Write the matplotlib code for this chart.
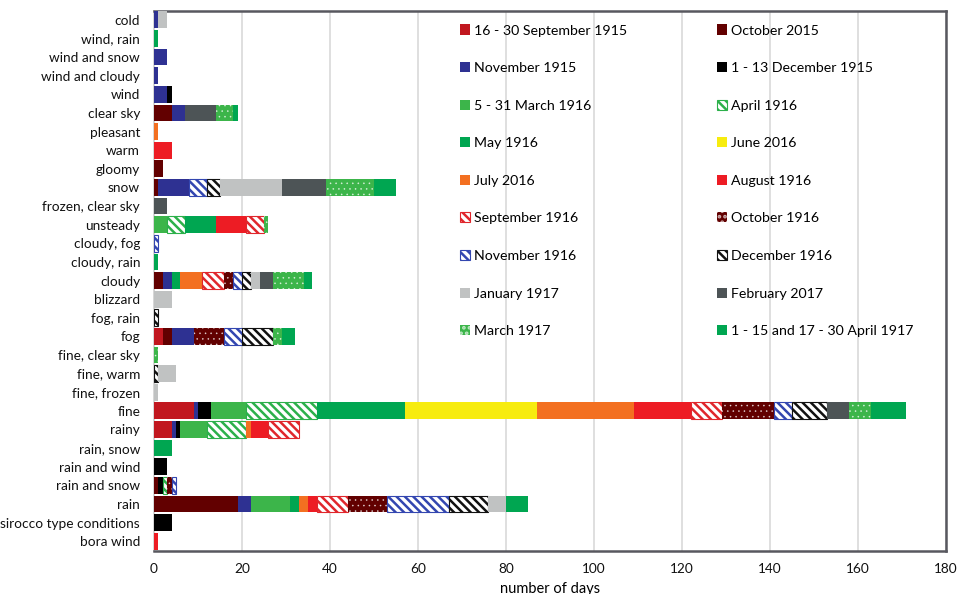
import numpy as np
from matplotlib import pyplot as plt
from matplotlib.patches import Patch

plt.rcParams['font.family'] = ['Lato', 'DejaVu Sans']
plt.rcParams['hatch.linewidth'] = 1.8

categories = [
    'cold', 'wind, rain', 'wind and snow', 'wind and cloudy', 'wind',
    'clear sky', 'pleasant', 'warm', 'gloomy', 'snow', 'frozen, clear sky',
    'unsteady', 'cloudy, fog', 'cloudy, rain', 'cloudy', 'blizzard',
    'fog, rain', 'fog', 'fine, clear sky', 'fine, warm', 'fine, frozen',
    'fine', 'rainy', 'rain, snow', 'rain and wind', 'rain and snow', 'rain',
    'sirocco type conditions', 'bora wind',
]

# number of days per category (same order as categories)
sep_1915 = [0, 0, 0, 0, 0, 0, 0, 0, 0, 0, 0, 0, 0, 0, 0, 0, 0, 2, 0, 0, 0, 9, 4, 0, 0, 0, 0, 0, 0]
oct_1915 = [0, 0, 0, 0, 0, 4, 0, 0, 2, 1, 0, 0, 0, 0, 2, 0, 0, 2, 0, 0, 0, 0, 0, 0, 0, 1, 19, 0, 0]
nov_1915 = [1, 0, 3, 1, 3, 3, 0, 0, 0, 7, 0, 0, 0, 0, 2, 0, 0, 5, 0, 0, 0, 1, 1, 0, 0, 0, 3, 0, 0]
dec_1915 = [0, 0, 0, 0, 1, 0, 0, 0, 0, 0, 0, 0, 0, 0, 0, 0, 0, 0, 0, 0, 0, 3, 1, 0, 3, 1, 0, 4, 0]
mar_1916 = [0, 0, 0, 0, 0, 0, 0, 0, 0, 0, 0, 3, 0, 0, 0, 0, 0, 0, 0, 0, 0, 8, 6, 0, 0, 0, 9, 0, 0]
apr_1916 = [0, 0, 0, 0, 0, 0, 0, 0, 0, 0, 0, 4, 0, 0, 0, 0, 0, 0, 0, 0, 0, 16, 9, 0, 0, 1, 0, 0, 0]
may_1916 = [0, 1, 0, 0, 0, 0, 0, 0, 0, 0, 0, 7, 0, 1, 2, 0, 0, 0, 0, 0, 0, 20, 0, 0, 0, 0, 2, 0, 0]
jun_1916 = [0, 0, 0, 0, 0, 0, 0, 0, 0, 0, 0, 0, 0, 0, 0, 0, 0, 0, 0, 0, 0, 30, 0, 0, 0, 0, 0, 0, 0]
jul_1916 = [0, 0, 0, 0, 0, 0, 1, 0, 0, 0, 0, 0, 0, 0, 5, 0, 0, 0, 0, 0, 0, 22, 1, 0, 0, 0, 2, 0, 0]
aug_1916 = [0, 0, 0, 0, 0, 0, 0, 4, 0, 0, 0, 7, 0, 0, 0, 0, 0, 0, 0, 0, 0, 13, 4, 0, 0, 0, 2, 0, 1]
sep_1916 = [0, 0, 0, 0, 0, 0, 0, 0, 0, 0, 0, 4, 0, 0, 5, 0, 0, 0, 0, 0, 0, 7, 7, 0, 0, 0, 7, 0, 0]
oct_1916 = [0, 0, 0, 0, 0, 0, 0, 0, 0, 0, 0, 0, 0, 0, 2, 0, 0, 7, 0, 0, 0, 12, 0, 0, 0, 1, 9, 0, 0]
nov_1916 = [0, 0, 0, 0, 0, 0, 0, 0, 0, 4, 0, 0, 1, 0, 2, 0, 0, 4, 0, 0, 0, 4, 0, 0, 0, 1, 14, 0, 0]
dec_1916 = [0, 0, 0, 0, 0, 0, 0, 0, 0, 3, 0, 0, 0, 0, 2, 0, 1, 7, 0, 1, 0, 8, 0, 0, 0, 0, 9, 0, 0]
jan_1917 = [2, 0, 0, 0, 0, 0, 0, 0, 0, 14, 0, 0, 0, 0, 2, 4, 0, 0, 0, 4, 1, 0, 0, 0, 0, 0, 4, 0, 0]
feb_1917 = [0, 0, 0, 0, 0, 7, 0, 0, 0, 10, 3, 0, 0, 0, 3, 0, 0, 0, 0, 0, 0, 5, 0, 0, 0, 0, 0, 0, 0]
mar_1917 = [0, 0, 0, 0, 0, 4, 0, 0, 0, 11, 0, 1, 0, 0, 7, 0, 0, 2, 1, 0, 0, 5, 0, 0, 0, 0, 0, 0, 0]
apr_1917 = [0, 0, 0, 0, 0, 1, 0, 0, 0, 5, 0, 0, 0, 0, 2, 0, 0, 3, 0, 0, 0, 8, 0, 4, 0, 0, 5, 0, 0]

series_labels = [
    '16 - 30 September 1915', 'October 2015', 'November 1915',
    '1 - 13 December 1915', '5 - 31 March 1916', 'April 1916', 'May 1916',
    'June 2016', 'July 2016', 'August 1916', 'September 1916',
    'October 1916', 'November 1916', 'December 1916', 'January 1917',
    'February 2017', 'March 1917', '1 - 15 and 17 - 30 April 1917',
]
series = [sep_1915, oct_1915, nov_1915, dec_1915, mar_1916, apr_1916,
          may_1916, jun_1916, jul_1916, aug_1916, sep_1916, oct_1916,
          nov_1916, dec_1916, jan_1917, feb_1917, mar_1917, apr_1917]

# (colour, kind): solid, stripes (white with coloured lines), dots (white dots)
styles = [
    ('#c1171f', 'solid'), ('#620000', 'solid'), ('#2e3192', 'solid'),
    ('#000000', 'solid'), ('#3cb54a', 'solid'), ('#2cb04a', 'stripes'),
    ('#00a651', 'solid'), ('#f7ec0f', 'solid'), ('#f37021', 'solid'),
    ('#ed1c24', 'solid'), ('#e0262c', 'stripes'), ('#620000', 'dots'),
    ('#3346b0', 'stripes'), ('#111111', 'stripes'), ('#c0c2c2', 'solid'),
    ('#4d5456', 'solid'), ('#3cb54a', 'dots'), ('#00a651', 'solid'),
]


def patch_kwargs(color, kind):
    if kind == 'stripes':
        return dict(facecolor='white', edgecolor=color, hatch='\\\\\\\\', linewidth=0.8)
    if kind == 'dots':
        return dict(facecolor=color, edgecolor='#ffffffb0', hatch='...', linewidth=0)
    return dict(facecolor=color, edgecolor='none', linewidth=0)


def thin_dots(patch, kind):
    # small white dots instead of fat rings
    if kind == 'dots' and hasattr(patch, 'set_hatch_linewidth'):
        patch.set_hatch_linewidth(0.4)


fig = plt.figure(figsize=(9.59, 5.94), dpi=100)
ax = fig.add_axes([154 / 959, 1 - 550.5 / 594, (946 - 154) / 959, (550.5 - 10.5) / 594])

y = np.arange(len(categories))
left = np.zeros(len(categories))
handles = []
for values, label, (color, kind) in zip(series, series_labels, styles):
    values = np.array(values, dtype=float)
    mask = values > 0
    bars = ax.barh(y[mask], values[mask], left=left[mask], height=0.9,
                   zorder=3, **patch_kwargs(color, kind))
    for bar in bars:
        thin_dots(bar, kind)
    left += values
    handle = Patch(label=label, **patch_kwargs(color, kind))
    thin_dots(handle, kind)
    handles.append(handle)

ax.set_ylim(len(categories) - 0.5, -0.5)
ax.set_xlim(0, 180)
ax.set_xticks(np.arange(0, 181, 20))
ax.set_yticks(y)
ax.set_yticklabels(categories)
ax.tick_params(axis='both', length=0, labelsize=9.8, labelcolor='#111111')
ax.tick_params(axis='y', pad=10)
ax.tick_params(axis='x', pad=9)
ax.set_xlabel('number of days', fontsize=10.5, labelpad=5)

ax.grid(axis='x', color='#d9d9d9', linewidth=1.2, zorder=0)
ax.set_axisbelow(True)
for side in ['top', 'right', 'bottom']:
    ax.spines[side].set_color('#58585f')
    ax.spines[side].set_linewidth(1.8)
ax.spines['left'].set_color('#d0d0d0')
ax.spines['left'].set_linewidth(1.2)

legend_kw = dict(frameon=False, fontsize=10.2, handlelength=0.72, handleheight=0.72,
                 handletextpad=0.25, labelspacing=1.805, borderpad=0,
                 borderaxespad=0, loc='upper left', bbox_transform=fig.transFigure)
leg1 = ax.legend(handles=handles[0::2], bbox_to_anchor=(460 / 959, 1 - 24.5 / 594), **legend_kw)
ax.add_artist(leg1)
ax.legend(handles=handles[1::2], bbox_to_anchor=(717 / 959, 1 - 24.5 / 594), **legend_kw)

fig.savefig('out.png', dpi=100)
